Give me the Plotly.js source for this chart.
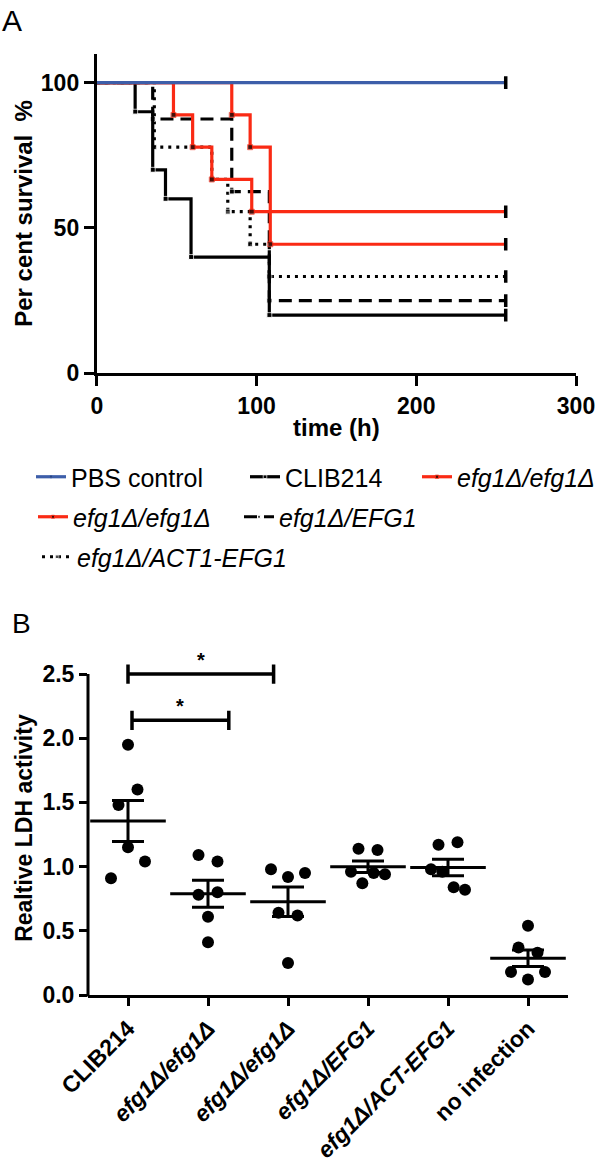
<!DOCTYPE html>
<html><head><meta charset="utf-8">
<script src="https://cdn.plot.ly/plotly-3.0.1.min.js"></script>
<style>html,body{margin:0;padding:0;background:#fff}</style>
</head><body><div id="chart" style="width:600px;height:1166px"></div>
<script>
// ---------- Panel A: survival (Kaplan-Meier steps) ----------
const pbsTime  = [0, 256];
const pbsSurv  = [100, 100];
const clibTime = [0, 24, 35, 43, 59, 108, 256];
const clibSurv = [100, 90, 70, 60, 40, 20, 20];
const mutATime = [0, 48, 60, 72, 97, 256];
const mutASurv = [100, 88.9, 77.8, 66.7, 55.6, 55.6];
const mutBTime = [0, 84.5, 96, 108.6, 256];
const mutBSurv = [100, 88.9, 77.8, 44.4, 44.4];
const revTime  = [0, 35, 84.5, 108, 256];
const revSurv  = [100, 87.5, 62.5, 25, 25];
const actTime  = [0, 36, 72, 82, 96, 108, 256];
const actSurv  = [100, 77.8, 66.7, 55.6, 44.4, 33.3, 33.3];
const survTicks = [0, 50, 100];
const timeTicks = [0, 100, 200, 300];

// ---------- Panel B: LDH activity ----------
const ldhGroups = ['<b>CLIB214</b>', '<b><i>efg1Δ/efg1Δ</i></b>', '<b><i>efg1Δ/efg1Δ</i></b>',
                   '<b><i>efg1Δ/EFG1</i></b>', '<b><i>efg1Δ/ACT-EFG1</i></b>', '<b>no infection</b>'];
const ldhClib  = [1.95, 1.48, 1.60, 0.91, 1.15, 1.04];
const ldhMutA  = [1.09, 1.04, 0.78, 0.80, 0.61, 0.41];
const ldhMutB  = [0.98, 0.92, 0.95, 0.64, 0.62, 0.25];
const ldhRev   = [1.14, 1.13, 0.96, 0.87, 0.95, 0.94];
const ldhAct   = [1.17, 1.19, 0.98, 0.96, 0.84, 0.82];
const ldhNone  = [0.54, 0.37, 0.33, 0.18, 0.12, 0.18];
const ldhTicks = [0, 0.5, 1.0, 1.5, 2.0, 2.5];

const W = 600, H = 1166;
const FONT = 'Liberation Sans, Arial, sans-serif';
const BLUE = '#3d5ea9', RED = '#fa2a14';

// domains (paper)
const axA = [96.8 / W, 576 / W];
const ayA = [1 - 373.3 / H, 1 - 53.6 / H];
const axB = [88 / W, 568 / W];
const ayB = [1 - 995 / H, 1 - 661.2 / H];
const yMaxB = 2.6;

function kmTrace(t, s, name, color, dash, legend) {
  const sizes = t.map((_, i) => (i === 0 || i === t.length - 1) ? 0 : 5);
  return {x: t, y: s, type: 'scatter', mode: 'lines+markers', name: name, legend: legend,
    line: {shape: 'hv', color: color, width: 3.2, dash: dash},
    marker: {symbol: 'square', size: sizes, color: '#000'},
    xaxis: 'x', yaxis: 'y', hoverinfo: 'skip'};
}
function censor(t, s) {
  return {x: [t[t.length - 1]], y: [s[s.length - 1]], type: 'scatter', mode: 'markers', showlegend: false,
    marker: {symbol: 'line-ns', size: 9, color: '#000', line: {color: '#000', width: 3.5}},
    xaxis: 'x', yaxis: 'y', hoverinfo: 'skip'};
}

const traces = [];
traces.push(kmTrace(actTime, actSurv, '<i>efg1Δ/ACT1-EFG1</i>', '#000', '3px,5px', 'legend6'));
traces.push(kmTrace(revTime, revSurv, '<i>efg1Δ/EFG1</i>', '#000', '13px,7px', 'legend5'));
traces.push(kmTrace(clibTime, clibSurv, 'CLIB214', '#000', 'solid', 'legend2'));
traces.push(kmTrace(mutBTime, mutBSurv, '<i>efg1Δ/efg1Δ</i>', RED, 'solid', 'legend4'));
traces.push(kmTrace(mutATime, mutASurv, '<i>efg1Δ/efg1Δ</i>', RED, 'solid', 'legend3'));
traces.push(kmTrace(pbsTime, pbsSurv, 'PBS control', BLUE, 'solid', 'legend'));
[[actTime, actSurv], [revTime, revSurv], [clibTime, clibSurv], [mutBTime, mutBSurv],
 [mutATime, mutASurv], [pbsTime, pbsSurv]].forEach(p => traces.push(censor(p[0], p[1])));

// ---- Panel B points: row-based scatter spread derived from the values ----
const yPxPerUnit = (ayB[1] - ayB[0]) * H / yMaxB;
const xPxPerUnit = (axB[1] - axB[0]) * W / 6;
function spread(vals) {
  const n = vals.length;
  const idx = vals.map((v, i) => i).sort((a, b) => vals[b] - vals[a]);
  const rows = []; let cur = [idx[0]];
  for (let k = 1; k < n; k++) {
    const gap = (vals[idx[k - 1]] - vals[idx[k]]) * yPxPerUnit;
    if (gap < 18) cur.push(idx[k]); else { rows.push(cur); cur = [idx[k]]; }
  }
  rows.push(cur);
  const off = new Array(n).fill(0);
  rows.forEach(r => {
    r.sort((a, b) => a - b);
    const m = r.length;
    const s = m === 2 ? 19 : (m > 2 ? 34 / (m - 1) : 0);
    r.forEach((id, k) => { off[id] = (k - (m - 1) / 2) * s / xPxPerUnit; });
  });
  return off;
}
const ldhSets = [ldhClib, ldhMutA, ldhMutB, ldhRev, ldhAct, ldhNone];
const px = [], py = [], mx = [], my = [], se = [];
ldhSets.forEach((vals, g) => {
  const off = spread(vals);
  vals.forEach((v, i) => { px.push(g + off[i]); py.push(v); });
  const n = vals.length;
  const mean = vals.reduce((a, b) => a + b, 0) / n;
  const sd = Math.sqrt(vals.reduce((a, b) => a + (b - mean) * (b - mean), 0) / (n - 1));
  mx.push(g); my.push(mean); se.push(sd / Math.sqrt(n));
});
traces.push({x: px, y: py, type: 'scatter', mode: 'markers', showlegend: false, xaxis: 'x2', yaxis: 'y2',
  marker: {symbol: 'circle', size: 12, color: '#000'}, hoverinfo: 'skip'});
traces.push({x: mx, y: my, type: 'scatter', mode: 'markers', showlegend: false, xaxis: 'x2', yaxis: 'y2',
  marker: {symbol: 'line-ew', size: 54, color: '#000', line: {color: '#000', width: 3}},
  error_y: {type: 'data', array: se, visible: true, color: '#000', thickness: 3, width: 16},
  hoverinfo: 'skip'});

// ---------- layout ----------
const pyB = v => ayB[0] + v / yMaxB * (ayB[1] - ayB[0]);
function legendAt(xpx, ypx) {
  return {x: xpx / W, y: 1 - ypx / H, xanchor: 'left', yanchor: 'middle', orientation: 'h',
    bgcolor: 'rgba(0,0,0,0)', borderwidth: 0, font: {family: FONT, size: 25, color: '#000'}, itemwidth: 30};
}
const brackets = [{a: 0, b: 1.82, y: 2.5}, {a: 0.05, b: 1.26, y: 2.14}];
const shapes = [{type: 'line', xref: 'paper', yref: 'paper', x0: axB[0], x1: axB[0], y0: pyB(0) - 0.0012, y1: pyB(2.5),
  line: {color: '#000', width: 3}}];
const annotations = [
  {text: 'A', xref: 'paper', yref: 'paper', x: 0, y: 1 - 2 / H, xanchor: 'left', yanchor: 'top', showarrow: false,
   font: {family: FONT, size: 30, color: '#000'}},
  {text: 'B', xref: 'paper', yref: 'paper', x: 10 / W, y: 1 - 606 / H, xanchor: 'left', yanchor: 'top', showarrow: false,
   font: {family: FONT, size: 28, color: '#000'}}
];
brackets.forEach(b => {
  shapes.push({type: 'line', xref: 'x2', yref: 'y2', x0: b.a, x1: b.b, y0: b.y, y1: b.y, line: {color: '#000', width: 3.5}});
  shapes.push({type: 'line', xref: 'x2', yref: 'y2', x0: b.a, x1: b.a, y0: b.y - 0.075, y1: b.y + 0.075, line: {color: '#000', width: 3.5}});
  shapes.push({type: 'line', xref: 'x2', yref: 'y2', x0: b.b, x1: b.b, y0: b.y - 0.075, y1: b.y + 0.075, line: {color: '#000', width: 3.5}});
  annotations.push({text: '<b>*</b>', xref: 'x2', yref: 'y2', x: (b.a + b.b) / 2, y: b.y, yanchor: 'bottom', yshift: 1,
    showarrow: false, font: {family: FONT, size: 20, color: '#000'}});
});

const tickFont = {family: FONT, size: 23, color: '#000', weight: 'bold'};
const layout = {
  width: W, height: H, margin: {l: 0, r: 0, t: 0, b: 0, autoexpand: false},
  paper_bgcolor: '#fff', plot_bgcolor: 'rgba(0,0,0,0)',
  font: {family: FONT, color: '#000'},
  xaxis: {domain: axA, anchor: 'y', range: [0, 300], tickvals: timeTicks, showline: true, linewidth: 3, linecolor: '#000',
    ticks: 'outside', ticklen: 10, tickwidth: 3, tickcolor: '#000', showgrid: false, zeroline: false, tickfont: tickFont,
    title: {text: '<b>time (h)</b>', font: {family: FONT, size: 24, color: '#000'}, standoff: 2}},
  yaxis: {domain: ayA, anchor: 'x', range: [0, 110], tickvals: survTicks, showline: true, linewidth: 3, linecolor: '#000',
    ticks: 'outside', ticklen: 10, tickwidth: 3, tickcolor: '#000', showgrid: false, zeroline: false, tickfont: tickFont,
    title: {text: '<b>Per cent survival\u00a0 %</b>', font: {family: FONT, size: 24, color: '#000'}, standoff: 2}},
  xaxis2: {domain: axB, anchor: 'y2', range: [-0.5, 5.5], tickvals: ldhGroups.map((_, i) => i), ticktext: ldhGroups,
    tickangle: -45, showline: true, linewidth: 3, linecolor: '#000', ticks: 'outside', ticklen: 8, tickwidth: 3,
    tickcolor: '#000', showgrid: false, zeroline: false, tickfont: {family: FONT, size: 23, color: '#000'}},
  yaxis2: {domain: ayB, anchor: 'x2', range: [0, yMaxB], tickvals: ldhTicks, tickformat: '.1f', showline: false,
    ticks: 'outside', ticklen: 8, tickwidth: 3, tickcolor: '#000', showgrid: false, zeroline: false, tickfont: tickFont,
    title: {text: '<b>Realtive LDH activity</b>', font: {family: FONT, size: 23, color: '#000'}, standoff: 3}},
  legend: legendAt(31, 477), legend2: legendAt(245, 477), legend3: legendAt(417, 477),
  legend4: legendAt(33, 517), legend5: legendAt(239, 517), legend6: legendAt(37, 557),
  shapes: shapes, annotations: annotations, showlegend: true
};
Plotly.newPlot('chart', traces, layout, {staticPlot: true, displayModeBar: false});
</script></body></html>
